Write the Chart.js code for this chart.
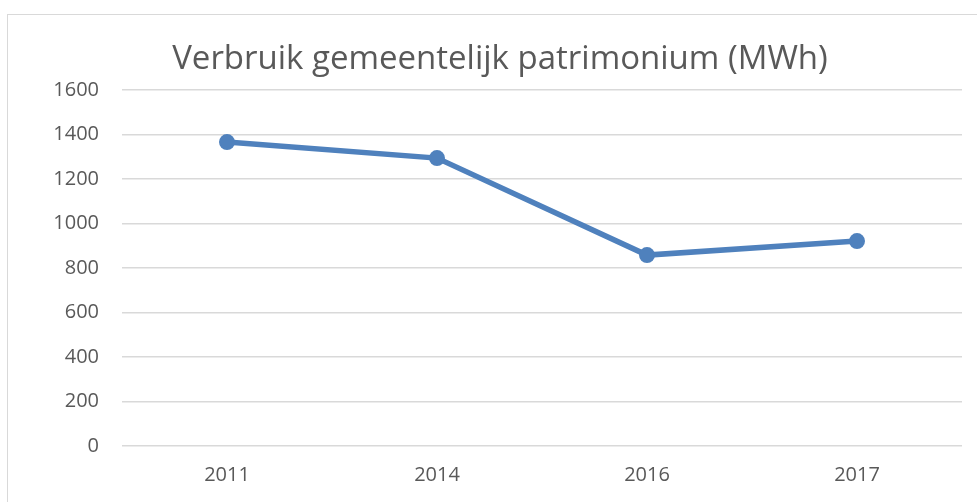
<!DOCTYPE html>
<html>
<head>
<meta charset="utf-8">
<script src="https://cdn.jsdelivr.net/npm/chart.js@4"></script>
<style>
  body { margin: 0; background: #fff; overflow: hidden; }
  #frame { position: absolute; left: 7px; top: 14px; width: 1000px; height: 520px; border: 1px solid #d9d9d9; }
  #wrap { position: absolute; left: 0; top: 0; width: 977px; height: 502px; }
</style>
</head>
<body>
<div id="frame"></div>
<div id="wrap"><canvas id="myChart"></canvas></div>
<script>
'use strict';

// data
let years = ['2011', '2014', '2016', '2017'];
let verbruik = [1366, 1294, 858, 921];
let yTicks = [0, 200, 400, 600, 800, 1000, 1200, 1400, 1600];

const textColor = '#595959';
const fontName = '"Open Sans", "Noto Sans", sans-serif';

let ctx = document.getElementById('myChart').getContext('2d');
let myChart = new Chart(ctx, {
  type: 'line',
  data: {
    labels: years,
    datasets: [{
      label: 'Verbruik',
      data: verbruik,
      borderColor: '#4f81bd',
      backgroundColor: '#4f81bd',
      borderWidth: 5.5,
      pointRadius: 8,
      pointHoverRadius: 8,
      pointBorderWidth: 0,
      tension: 0,
    }]
  },
  options: {
    responsive: true,
    maintainAspectRatio: false,
    animation: false,
    layout: {
      padding: { left: 38, right: 15, top: 40, bottom: 0 }
    },
    plugins: {
      legend: { display: false },
      tooltip: { enabled: false },
      title: {
        display: true,
        text: 'Verbruik gemeentelijk patrimonium (MWh)',
        color: textColor,
        font: { family: fontName, size: 33, weight: 'normal', lineHeight: 1.2 },
        padding: { top: 0, bottom: 10.4 }
      }
    },
    scales: {
      x: {
        offset: true,
        grid: { display: false, drawTicks: false },
        border: { display: false },
        ticks: {
          color: textColor,
          font: { family: fontName, size: 20 },
          padding: 17
        },
        afterFit: function (scale) { scale.height = 56; }
      },
      y: {
        min: 0,
        max: 1600,
        afterBuildTicks: function (scale) {
          scale.ticks = yTicks.map(function (v) { return { value: v }; });
        },
        grid: { color: '#d9d9d9', lineWidth: 1.5, drawTicks: false },
        border: { display: false },
        ticks: {
          color: textColor,
          font: { family: fontName, size: 20 },
          padding: 23,
          callback: function (value) { return String(value); }
        },
        afterFit: function (scale) { scale.width = 84; }
      }
    }
  }
});
</script>
</body>
</html>
